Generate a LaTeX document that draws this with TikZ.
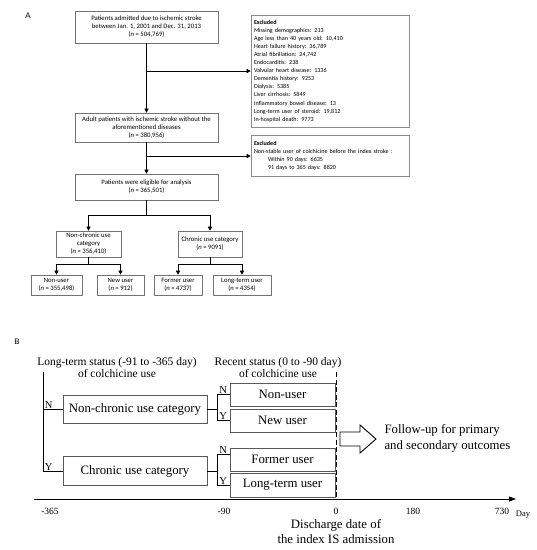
\documentclass[tikz,border=0pt]{standalone}
\usepackage{fontspec}
\setmainfont{Liberation Serif}
\newfontfamily\calfont{Carlito}
\newfontfamily\labfont{Liberation Sans}
\usetikzlibrary{positioning,arrows.meta}

\tikzset{
  flowbox/.style={draw=black!55, line width=0.6pt, align=center, inner sep=1pt,
    font=\calfont\fontsize{6.7}{8.1}\selectfont},
  exbox/.style={draw=black!45, line width=0.6pt, align=left, text width=152pt,
    inner xsep=3pt, font=\calfont\fontsize{6.1}{8.1}\selectfont},
  statbox/.style={draw=black!65, line width=0.7pt, inner sep=0pt,
    font=\fontsize{12.8}{15}\selectfont},
  yn/.style={anchor=south west, inner sep=0.8pt, xshift=1pt, font=\fontsize{10.5}{12}\selectfont},
  ticklbl/.style={font=\fontsize{9.5}{11}\selectfont},
  arr/.style={-{Triangle[length=4pt,width=4pt]}},
}

\begin{document}
\begin{tikzpicture}[x=1pt,y=-1pt]
\useasboundingbox (0,0) rectangle (537,550);

% panel A
\node[font=\labfont\fontsize{8}{9}\selectfont] (lblA) at (28,16) {A};
\node[flowbox, minimum width=143pt, minimum height=32pt] (adm) at (146.5,27)
  {Patients admitted due to ischemic stroke\\between Jan. 1, 2001 and Dec. 31, 2013\\(\textit{n} = 504,769)};
\node[exbox, minimum height=112pt] (exa) at (330,71)
  {\textbf{Excluded}\\Missing demographics: 213\\Age less than 40 years old: 10,410\\Heart failure history: 36,789\\Atrial fibrillation: 24,742\\Endocarditis: 238\\Valvular heart disease: 1336\\Dementia history: 9253\\Dialysis: 5385\\Liver cirrhosis: 5849\\Inflammatory bowel disease: 13\\Long-term user of steroid: 19,812\\In-hospital death: 9773};
\node[flowbox, minimum width=143pt, minimum height=29pt] (adult) at (146.5,127.5)
  {Adult patients with ischemic stroke without the\\aforementioned diseases\\(\textit{n} = 380,956)};
\node[exbox, minimum height=41pt] (exb) at (330,156)
  {\textbf{Excluded}\\Non-stable user of colchicine before the index stroke :\\\hspace*{14pt}Within 90 days: 6635\\\hspace*{14pt}91 days to 365 days: 8820};
\node[flowbox, minimum width=143pt, minimum height=26pt] (elig) at (146.5,187)
  {Patients were eligible for analysis\\(\textit{n} = 365,501)};
\node[flowbox, minimum width=65pt, minimum height=26pt] (nonchr) at (88.5,244)
  {Non-chronic use\\category\\(\textit{n} = 356,410)};
\node[flowbox, minimum width=64pt, minimum height=26pt] (chr) at (210,244)
  {Chronic use category\\(\textit{n} = 9091)};
\node[flowbox, minimum width=51pt, minimum height=20pt] (nonu) at (56.5,285)
  {Non-user\\(\textit{n} = 355,498)};
\node[flowbox, minimum width=47pt, minimum height=20pt] (newu) at (120.5,285)
  {New user\\(\textit{n} = 912)};
\node[flowbox, minimum width=48pt, minimum height=20pt] (formu) at (178,285)
  {Former user\\(\textit{n} = 4737)};
\node[flowbox, minimum width=58pt, minimum height=20pt] (longu) at (242,285)
  {Long-term user\\(\textit{n} = 4354)};

\draw[arr] (adm) -- (adult);
\coordinate (ja) at (adm.south |- exa.west);
\draw[arr] (ja) -- (exa.west);
\draw[arr] (adult) -- (elig);
\coordinate (jb) at (adult.south |- exb.west);
\draw[arr] (jb) -- (exb.west);
\draw (elig.south) -- ++(0,15) coordinate (sa);
\draw[arr] (sa) -| (nonchr.north);
\draw[arr] (sa) -| (chr.north);
\draw (nonchr.south) -- ++(0,7) coordinate (sb);
\draw[arr] (sb) -| (nonu.north);
\draw[arr] (sb) -| (newu.north);
\draw (chr.south) -- ++(0,7) coordinate (sc);
\draw[arr] (sc) -| (formu.north);
\draw[arr] (sc) -| (longu.north);

% panel B
\node[font=\labfont\fontsize{8}{9}\selectfont] (lblB) at (17,342) {B};
\node[align=center, font=\fontsize{11.5}{12}\selectfont] (lthead) at (117,368)
  {Long-term status (-91 to -365 day)\\of colchicine use};
\node[align=center, font=\fontsize{11.5}{12}\selectfont] (rchead) at (278,368)
  {Recent status (0 to -90 day)\\of colchicine use};
\node[statbox, minimum width=144pt, minimum height=28pt] (ncat) at (135,409) {Non-chronic use category};
\node[statbox, minimum width=144pt, minimum height=29pt] (ccat) at (135,471) {Chronic use category};
\node[statbox, minimum width=105pt, minimum height=23pt] (nonB) at (282.5,394.5) {Non-user};
\node[statbox, minimum width=105pt, minimum height=23pt] (newB) at (282.5,420.5) {New user};
\node[statbox, minimum width=105pt, minimum height=23pt] (formB) at (282.5,459.5) {Former user};
\node[statbox, minimum width=105pt, minimum height=24pt] (longB) at (282.5,485) {Long-term user};

\coordinate (trunk) at (43,372);
\draw[line width=0.7pt] (trunk) |- (ccat.west);
\draw[line width=0.7pt] (trunk |- ncat.west) -- (ncat.west);
\node[yn] at (trunk |- ncat.west) {N};
\node[yn] at (trunk |- ccat.west) {Y};

\draw[line width=0.7pt] (ncat.east) -- ++(10,0) coordinate (ka);
\draw[line width=0.7pt] (nonB.west) -| (ka) |- (newB.west);
\node[yn] at (ka |- nonB.west) {N};
\node[yn] at (ka |- newB.west) {Y};
\draw[line width=0.7pt] (ccat.east) -- ++(10,0) coordinate (kb);
\draw[line width=0.7pt] ([yshift=5pt]formB.west) -| (kb) |- (longB.west);
\node[yn] at ([yshift=5pt]formB.west -| kb) {N};
\node[yn] at (kb |- longB.west) {Y};

\coordinate (dtop) at (336,372);
\coordinate (dbot) at (336,499);
\draw[dash pattern=on 5pt off 2.5pt, line width=0.7pt] (dtop) -- (dbot);

\draw[line width=0.9pt] (340,432) -- (360,432) -- (360,425) -- (376,439) -- (360,453) -- (360,446) -- (340,446) -- cycle;
\node[anchor=west, align=left, font=\fontsize{12.8}{16}\selectfont] (follow) at (381,438)
  {Follow-up for primary\\and secondary outcomes};

\coordinate (ax0) at (34,499);
\coordinate (ax1) at (516,499);
\draw[line width=0.9pt, -{Triangle[length=7pt,width=5pt]}] (ax0) -- (ax1);
\node[ticklbl] (t365) at (50,511) {-365};
\node[ticklbl] (t90) at (224,511) {-90};
\node[ticklbl] (t0) at (336,511) {0};
\node[ticklbl] (t180) at (413,511) {180};
\node[ticklbl] (t730) at (502,511) {730};
\node[font=\fontsize{8.5}{10}\selectfont] (day) at (523,515) {Day};
\node[align=center, font=\fontsize{12.8}{15}\selectfont] (disch) at (336,531.5)
  {Discharge date of\\the index IS admission};
\end{tikzpicture}
\end{document}
